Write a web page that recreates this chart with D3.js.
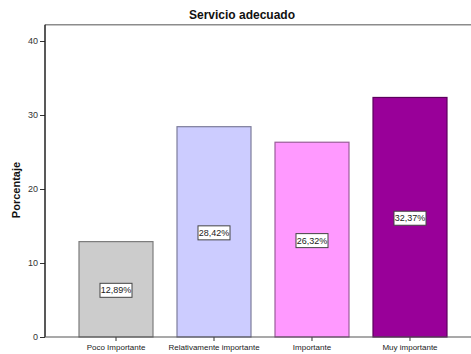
<!DOCTYPE html>
<html>
<head>
<meta charset="utf-8">
<script src="https://cdn.jsdelivr.net/npm/d3@7"></script>
<style>
  body { margin: 0; background: #fff; }
  svg { display: block; font-family: Arial, "Liberation Sans", sans-serif; }
</style>
</head>
<body>
<div id="chart"></div>
<script>
const categories = ['Poco Importante', 'Relativamente importante', 'Importante', 'Muy importante'];
const values = [12.89, 28.42, 26.32, 32.37];
const labels = ['12,89%', '28,42%', '26,32%', '32,37%'];
const colors = ['#cccccc', '#ccccff', '#ff99ff', '#990099'];
const yTicks = [0, 10, 20, 30, 40];

const width = 471, height = 354;

const svg = d3.select('#chart')
  .append('svg')
  .attr('width', width)
  .attr('height', height);

const x = d3.scaleBand()
  .domain(categories)
  .range([45, 481])
  .paddingInner(0.245)
  .paddingOuter(0.347);

const y = d3.scaleLinear()
  .domain([0, 40])
  .range([337, 41]);

const frameTop = y(42.2);

// frame top line
svg.append('line')
  .attr('x1', 45).attr('x2', width)
  .attr('y1', frameTop).attr('y2', frameTop)
  .attr('stroke', '#8c8c8c')
  .attr('stroke-width', 1.5);

// bars
svg.selectAll('rect.bar')
  .data(values)
  .enter().append('rect')
  .attr('class', 'bar')
  .attr('x', (d, i) => x(categories[i]))
  .attr('y', d => y(d))
  .attr('width', x.bandwidth())
  .attr('height', d => y(0) - y(d))
  .attr('fill', (d, i) => colors[i])
  .attr('stroke', (d, i) => d3.color(colors[i]).darker(1.4))
  .attr('stroke-width', 1.2);

// value labels
const lab = svg.selectAll('g.lab')
  .data(values)
  .enter().append('g')
  .attr('class', 'lab')
  .attr('transform', (d, i) => `translate(${x(categories[i]) + x.bandwidth() / 2},${(y(d) + y(0)) / 2 + 1})`);

lab.append('rect')
  .attr('x', -16).attr('y', -7)
  .attr('width', 32).attr('height', 14)
  .attr('fill', '#fff')
  .attr('stroke', '#444')
  .attr('stroke-width', 1);

lab.append('text')
  .attr('text-anchor', 'middle')
  .attr('dy', '0.35em')
  .attr('font-size', 9)
  .attr('fill', '#222')
  .text((d, i) => labels[i]);

// y axis
const yAxis = svg.append('g')
  .attr('transform', 'translate(45,0)')
  .call(d3.axisLeft(y).tickValues(yTicks).tickSize(5).tickPadding(2));
yAxis.select('.domain').remove();
yAxis.selectAll('text').attr('font-size', 9).attr('fill', '#333').attr('font-family', 'Arial, "Liberation Sans", sans-serif');
yAxis.selectAll('line').attr('stroke', '#333');
svg.append('line')
  .attr('x1', 45).attr('x2', 45)
  .attr('y1', frameTop).attr('y2', y(0))
  .attr('stroke', '#222')
  .attr('stroke-width', 1.5);

// x axis
const xAxis = svg.append('g')
  .attr('transform', `translate(0,${y(0)})`)
  .call(d3.axisBottom(x).tickSize(4).tickPadding(3));
xAxis.select('.domain').remove();
xAxis.selectAll('text').attr('font-size', 8).attr('fill', '#222').attr('font-family', 'Arial, "Liberation Sans", sans-serif');
xAxis.selectAll('line').attr('stroke', '#333');
svg.append('line')
  .attr('x1', 45).attr('x2', width)
  .attr('y1', y(0)).attr('y2', y(0))
  .attr('stroke', '#555')
  .attr('stroke-width', 1.2);

// title
svg.append('text')
  .attr('x', 242).attr('y', 19)
  .attr('text-anchor', 'middle')
  .attr('font-size', 12)
  .attr('font-weight', 'bold')
  .attr('fill', '#111')
  .text('Servicio adecuado');

// y label
svg.append('text')
  .attr('transform', 'translate(20,190) rotate(-90)')
  .attr('text-anchor', 'middle')
  .attr('font-size', 11)
  .attr('font-weight', 'bold')
  .attr('fill', '#111')
  .text('Porcentaje');
</script>
</body>
</html>
